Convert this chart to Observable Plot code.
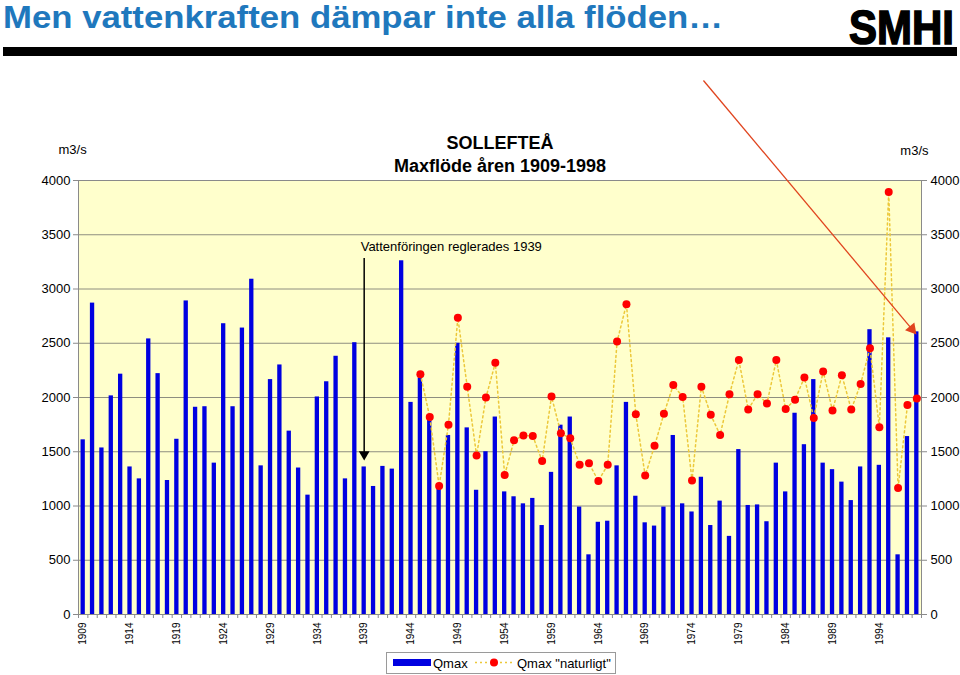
<!DOCTYPE html>
<html><head><meta charset="utf-8">
<script src="https://cdn.jsdelivr.net/npm/d3@7"></script>
<script src="https://cdn.jsdelivr.net/npm/@observablehq/plot@0.6"></script>
<style>
body{margin:0;background:#fff;font-family:"Liberation Sans",Arial,sans-serif;}
#wrap{position:relative;width:960px;height:675px;overflow:hidden;background:#fff;}
#head{position:absolute;left:0;top:0;}
#chart{position:absolute;left:0;top:60px;}
#legend{position:absolute;left:386px;top:652px;}
</style></head><body>
<div id="wrap">
<svg id="head" width="960" height="60">
  <rect x="3" y="47" width="954" height="9" fill="#000"/>
  <text x="3" y="28" textLength="720" lengthAdjust="spacingAndGlyphs" font-family="Liberation Sans, Arial, sans-serif" font-weight="bold" font-size="32" fill="#1f78bd">Men vattenkraften dämpar inte alla flöden…</text>
  <text transform="translate(849,44) scale(1,1.15)" x="0" y="0" font-family="Liberation Sans, Arial, sans-serif" font-weight="bold" font-size="42" fill="#000" stroke="#000" stroke-width="1.4">SMHI</text>
</svg>
<div id="chart"></div>
<svg id="legend" width="232" height="24" font-family="Liberation Sans, Arial, sans-serif" font-size="13">
  <rect x="0.5" y="0.5" width="229" height="21" fill="#fff" stroke="#9a9a9a"/>
  <rect x="7" y="7" width="38" height="7" fill="#0000e0"/>
  <text x="47" y="15.5" fill="#000">Qmax</text>
  <line x1="89" x2="126" y1="10.5" y2="10.5" stroke="#ecc83a" stroke-width="1.5" stroke-dasharray="2,3"/>
  <circle cx="108" cy="10.5" r="4" fill="#ff0000"/>
  <text x="131" y="15.5" fill="#000">Qmax "naturligt"</text>
</svg>
</div>
<script>
const firstYear = 1909;
// Qmax (regulated / observed), 1909-1998
const qmax = [
  1610,2870,1535,2015,2215,1360,1250,2540,2220,1235,
  1615,2890,1910,1915,1395,2680,1915,2640,3090,1370,
  2165,2300,1690,1350,1100,2005,2145,2380,1250,2505,
  1360,1180,1365,1340,3260,1955,2180,1800,1170,1650,
  2500,1720,1145,1500,1820,1130,1085,1020,1070,820,
  1310,1745,1820,990,550,850,860,1370,1955,1090,
  845,815,990,1650,1020,945,1265,820,1045,720,
  1520,1005,1010,855,1395,1130,1855,1565,2165,1395,
  1335,1220,1050,1360,2625,1375,2550,550,1640,2605
];
// Qmax "naturligt", 1945-1998
const natFirstYear = 1945;
const qmaxNatural = [
  2215,1820,1185,1750,2735,2100,1465,2000,2320,1285,
  1605,1650,1645,1415,2010,1670,1625,1380,1395,1230,
  1380,2515,2860,1845,1280,1555,1850,2115,2005,1235,
  2100,1840,1655,2030,2345,1890,2030,1945,2345,1895,
  1980,2185,1810,2240,1880,2205,1890,2125,2455,1725,
  3895,1165,1930,1990
];
const yTicks = [0,500,1000,1500,2000,2500,3000,3500,4000];
const yearLabels = [1909,1914,1919,1924,1929,1934,1939,1944,1949,1954,1959,1964,1969,1974,1979,1984,1989,1994];
const chartTitle = "SOLLEFTEÅ";
const chartSubtitle = "Maxflöde åren 1909-1998";
const unitLabel = "m3/s";
const note = "Vattenföringen reglerades 1939";
const regulationYear = 1939;

const bars = qmax.map((q, i) => ({year: firstYear + i, q}));
const nat = qmaxNatural.map((q, i) => ({year: natFirstYear + i, q}));
const lastYear = firstYear + qmax.length - 1;
const boundaries = bars.map(d => d.year - 0.5).concat([lastYear + 0.5]);

const grid = "#8e8e80";
const axisGray = "#8a8a8a";

const chart = Plot.plot({
  width: 960,
  height: 590,
  marginTop: 120,
  marginBottom: 36,
  marginLeft: 78,
  marginRight: 39,
  x: {type: "linear", domain: [firstYear - 0.5, lastYear + 0.5]},
  y: {domain: [0, 4000]},
  style: {fontFamily: "Liberation Sans, Arial, sans-serif", fontSize: "13px", color: "#000", background: "transparent", overflow: "visible"},
  marks: [
    Plot.frame({fill: "#ffffcc", stroke: null}),
    Plot.gridY({ticks: yTicks, stroke: grid, strokeOpacity: 1, strokeWidth: 1}),
    Plot.frame({stroke: axisGray, fill: null}),
    Plot.axisY({anchor: "left", ticks: yTicks, tickSize: 5, tickPadding: 3, label: null, stroke: axisGray, tickFormat: d => String(d)}),
    Plot.axisY({anchor: "right", ticks: yTicks, tickSize: 5, tickPadding: 4, label: null, stroke: axisGray, tickFormat: d => String(d)}),
    Plot.axisX({ticks: boundaries, tickSize: 4, tickFormat: () => "", label: null, stroke: axisGray}),
    Plot.axisX({ticks: yearLabels, tickSize: 0, tickPadding: 8, tickRotate: -90, tickFormat: d => String(d), label: null, fontSize: 10}),
    Plot.rect(bars, {x1: d => d.year - 0.23, x2: d => d.year + 0.23, y1: 0, y2: "q", fill: "#0000e0"}),
    Plot.ruleY([0], {stroke: axisGray}),
    Plot.line(nat, {x: "year", y: "q", stroke: "#ecc83a", strokeWidth: 1.5, strokeDasharray: "2,3"}),
    Plot.dot(nat, {x: "year", y: "q", r: 4, fill: "#ff0000", stroke: null}),
    // chart titles and unit labels
    Plot.text([chartTitle], {frameAnchor: "top", dy: -44, fontWeight: "bold", fontSize: 18}),
    Plot.text([chartSubtitle], {frameAnchor: "top", dy: -21, fontWeight: "bold", fontSize: 18}),
    Plot.text([unitLabel], {frameAnchor: "top-left", textAnchor: "start", dx: -20, dy: -36}),
    Plot.text([unitLabel], {frameAnchor: "top-right", textAnchor: "end", dx: 7, dy: -35}),
    // regulation note + arrow
    Plot.text([note], {x: regulationYear, y: 3385, textAnchor: "start", dx: -3.5}),
    Plot.ruleX([regulationYear], {y1: 3280, y2: 1480, stroke: "#000", strokeWidth: 1.5}),
    Plot.dot([regulationYear], {x: d => d, y: 1476, symbol: "triangle", rotate: 180, r: 4, fill: "#000", stroke: null}),
    // red arrow to the 1998 flood
    Plot.link([0], {x1: 1975.22, y1: 4922, x2: 1997.48, y2: 2630, stroke: "#e0441e", strokeWidth: 1.3}),
    Plot.dot([0], {x: 1997.48, y: 2630, symbol: "triangle", rotate: 140, r: 4.5, fill: "#e0441e", stroke: null})
  ]
});
document.getElementById("chart").appendChild(chart);
</script>
</body></html>
